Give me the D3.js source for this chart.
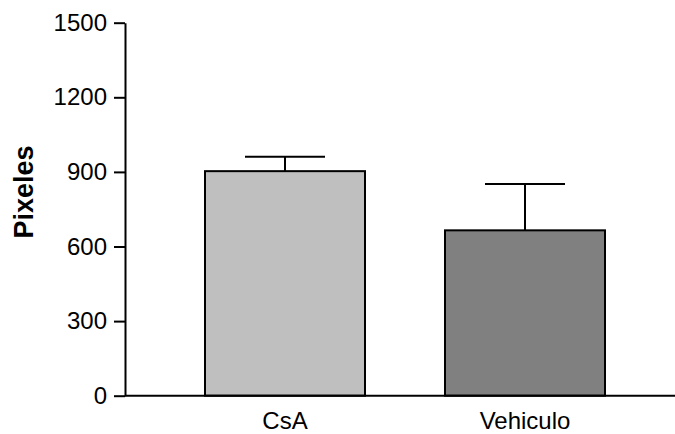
<!DOCTYPE html>
<html>
<head>
<meta charset="utf-8">
<script src="https://cdn.jsdelivr.net/npm/d3@7"></script>
<style>
  body { margin: 0; background: #fff; }
  text { font-family: "Liberation Sans", Arial, sans-serif; }
</style>
</head>
<body>
<svg width="675" height="434"></svg>
<script>
const categories = ["CsA", "Vehiculo"];
const means = [903, 665];
const errors = [58, 186];
const colors = ["#bfbfbf", "#808080"];
const yTicks = [0, 300, 600, 900, 1200, 1500];

const svg = d3.select("svg");

const x = d3.scaleBand()
    .domain(categories)
    .range([125, 685])
    .paddingInner(1/3)
    .paddingOuter(1/3);

const y = d3.scaleLinear()
    .domain([0, 1500])
    .range([395.7, 22.7]);

// bars
svg.append("g")
    .selectAll("rect")
    .data(categories)
    .enter().append("rect")
        .attr("x", d => x(d))
        .attr("y", (d, i) => y(means[i]))
        .attr("width", x.bandwidth())
        .attr("height", (d, i) => y(0) - y(means[i]))
        .attr("fill", (d, i) => colors[i])
        .attr("stroke", "black")
        .attr("stroke-width", 2);

// error bars
const errG = svg.append("g")
    .attr("stroke", "black")
    .attr("stroke-width", 2);

categories.forEach((c, i) => {
    const cx = x(c) + x.bandwidth() / 2;
    errG.append("line")
        .attr("x1", cx).attr("x2", cx)
        .attr("y1", y(means[i])).attr("y2", y(means[i] + errors[i]));
    errG.append("line")
        .attr("x1", cx - x.bandwidth() / 4).attr("x2", cx + x.bandwidth() / 4)
        .attr("y1", y(means[i] + errors[i])).attr("y2", y(means[i] + errors[i]));
});

// y axis
const yAxis = svg.append("g")
    .attr("transform", "translate(125,0)")
    .call(d3.axisLeft(y).tickValues(yTicks).tickFormat(d3.format("d"))
        .tickSize(11).tickPadding(7).tickSizeOuter(0));
yAxis.attr("font-size", 24).attr("font-family", "Liberation Sans, Arial, sans-serif");
yAxis.select(".domain").attr("stroke-width", 2);
yAxis.selectAll(".tick line").attr("stroke-width", 2);
yAxis.selectAll(".tick text").attr("fill", "black");

// x axis
svg.append("line")
    .attr("x1", 125).attr("x2", 675)
    .attr("y1", y(0)).attr("y2", y(0))
    .attr("stroke", "black")
    .attr("stroke-width", 2);

svg.append("g")
    .selectAll("text")
    .data(categories)
    .enter().append("text")
        .attr("x", d => x(d) + x.bandwidth() / 2)
        .attr("y", 429)
        .attr("text-anchor", "middle")
        .attr("font-size", 24)
        .text(d => d);

// y label
svg.append("text")
    .attr("transform", "translate(33,192) rotate(-90)")
    .attr("text-anchor", "middle")
    .attr("font-size", 27)
    .attr("font-weight", "bold")
    .text("Pixeles");
</script>
</body>
</html>
